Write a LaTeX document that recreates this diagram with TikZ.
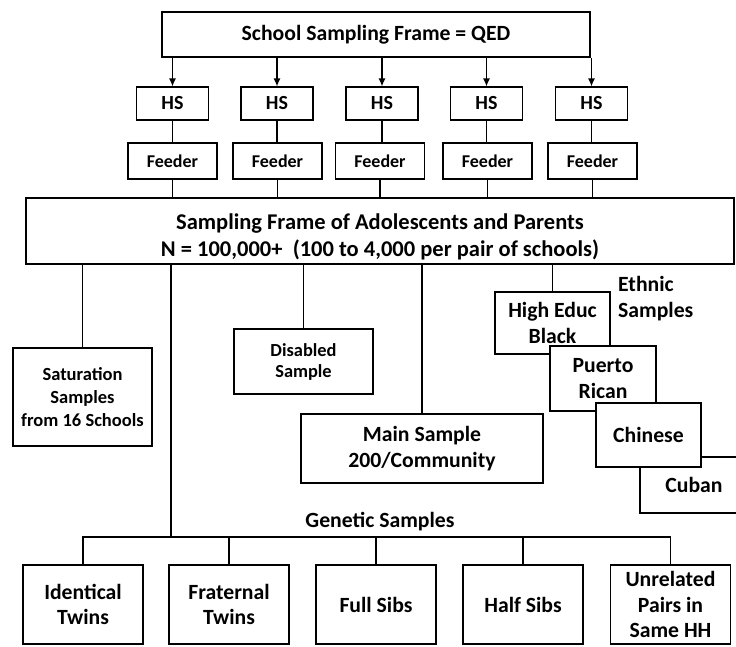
\documentclass[tikz,border=0pt]{standalone}
\usepackage{fontspec}
\setmainfont{Carlito}
\usetikzlibrary{arrows.meta}
\tikzset{
  box/.style={draw=black, line width=1.2pt, fill=white, inner sep=0pt, align=center, font=\bfseries},
  conn/.style={draw=black, line width=1.2pt},
  arr/.style={conn, -{Latex[length=8pt,width=7pt]}},
  fxxii/.style={font=\bfseries\fontsize{21.7}{26}\selectfont},
}
\begin{document}
\begin{tikzpicture}[x=1pt,y=-1pt]
\useasboundingbox (0,0) rectangle (736,646);
\clip (0,0) rectangle (736,646);
% top
\node[box, fxxii, minimum width=428pt, minimum height=45pt] (top) at (376,34.5) {School Sampling Frame = QED};
% HS
\foreach \i/\x in {1/172.5,2/277,3/382,4/486.5,5/591.5}{
  \node[box, font=\bfseries\fontsize{20}{22}\selectfont, minimum width=72pt, minimum height=33pt] (hs\i) at (\x,103.5) {HS};
}
\foreach \i/\x in {1/172.5,2/277.5,3/380,4/487.5,5/592.5}{
  \node[box, font=\bfseries\fontsize{18}{21}\selectfont, minimum width=89pt, minimum height=36pt] (fd\i) at (\x,161) {Feeder};
}
% frame
\node[box, font=\bfseries\fontsize{22.5}{27}\selectfont, minimum width=708pt, minimum height=66pt] (frame) at (380,231)
  {\rule{0pt}{27pt}Sampling Frame of Adolescents and Parents\\N = 100,000+\ \ (100 to 4,000 per pair of schools)};
\foreach \i in {1,...,5}{
  \draw[arr] (top.south -| hs\i.north) -- (hs\i.north);
  \draw[conn] (hs\i.south) -- (fd\i.north -| hs\i.south);
  \draw[conn] (fd\i.south) -- (frame.north -| fd\i.south);
}
% second level
\node[box, font=\bfseries\fontsize{18.5}{23}\selectfont, minimum width=139pt, minimum height=98pt] (sat) at (82.5,397) {Saturation\\Samples\\from 16 Schools};
\node[box, font=\bfseries\fontsize{18.4}{21}\selectfont, minimum width=139pt, minimum height=65pt] (dis) at (303.5,361.5) {Disabled\\Sample};
\node[box, fxxii, minimum width=242pt, minimum height=69pt] (main) at (422,448.5) {Main Sample\\200/Community};
\draw[conn] (frame.south -| sat.north) -- (sat.north);
\draw[conn] (frame.south -| dis.north) -- (dis.north);
\draw[conn] (frame.south -| main.north) -- (main.north);
% ethnic
\node[box, fxxii, minimum width=115pt, minimum height=62pt] (he) at (552.5,323) {High Educ\\Black};
\draw[conn] (frame.south -| he.north) -- (he.north);
\node[box, fxxii, minimum width=106pt, minimum height=65pt] (pr) at (603,378.5) {Puerto\\Rican};
\node[box, fxxii, minimum width=108pt, minimum height=56pt] (cu) at (694,485) {Cuban};
\node[box, fxxii, minimum width=105pt, minimum height=64pt] (ch) at (648.5,435) {Chinese};
\node[fxxii, anchor=north west, align=left, inner sep=0pt] (eth) at (618,276) {Ethnic\\Samples};
% genetic
\node[fxxii, inner sep=0pt] (gen) at (380,522) {Genetic Samples};
\coordinate (bus) at (171,537);
\draw[conn] (frame.south -| bus) -- (bus);
\foreach \n/\x/\t in {id/83/{Identical\\Twins}, fr/229/{Fraternal\\Twins}, fs/376/{Full Sibs}, hf/523/{Half Sibs}, un/670.5/{Unrelated\\Pairs in\\Same HH}}{
  \node[box, font=\bfseries\fontsize{21.7}{25.5}\selectfont, minimum width=120pt, minimum height=79pt] (\n) at (\x,604.5) {\t};
}
\draw[conn] (id.north) |- (bus) -| (un.north);
\foreach \n in {fr,fs,hf}{
  \draw[conn] (\n.north) -- (\n.north |- bus);
}
\end{tikzpicture}
\end{document}
